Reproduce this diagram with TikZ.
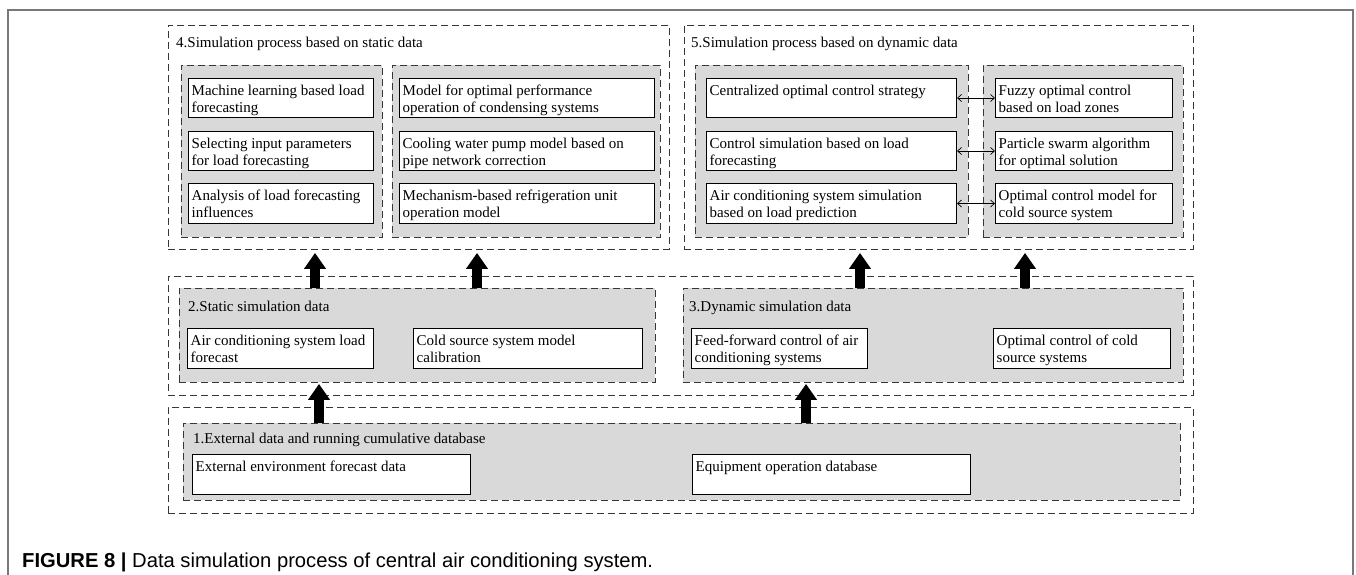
\documentclass[tikz,border=0pt]{standalone}
\usepackage{fontspec}
\setmainfont{Liberation Serif}
\newfontfamily\capfont{Liberation Sans}
\usetikzlibrary{arrows.meta}

\definecolor{panelgrey}{RGB}{217,217,217}
\definecolor{dashgrey}{RGB}{55,55,55}
\definecolor{framegrey}{RGB}{120,120,120}

% rectangle node from its top-left and bottom-right corners
\newcommand\rectnode[6]{\node[#1, minimum width={#5-#3}, minimum height={#6-#4}] (#2) at (#3,#4) {};}
% white box with top-aligned text
\newcommand\textbox[6]{\rectnode{wbox}{#1}{#2}{#3}{#4}{#5}%
  \node[label] (#1-t) at ([shift={(3.5,5.1)}]#1.north west) {\strut #6};}

\begin{document}
\begin{tikzpicture}[x=1pt, y=-1pt,
  outerbox/.style={draw=dashgrey, line width=0.9pt, dash pattern=on 7pt off 4pt, inner sep=0pt, anchor=north west},
  greypanel/.style={outerbox, fill=panelgrey},
  wbox/.style={draw=black, line width=1pt, fill=white, inner sep=0pt, anchor=north west},
  label/.style={anchor=north west, inner sep=0pt, align=left, font=\fontsize{15}{17}\selectfont},
  heading/.style={anchor=base west, inner sep=0pt, font=\fontsize{15}{17}\selectfont},
  fatarrow/.style={line width=10pt, -{Triangle[width=21pt,length=16pt]}},
  link/.style={line width=0.7pt, {Straight Barb[length=4pt,width=7pt]}-{Straight Barb[length=4pt,width=7pt]}}
]
\useasboundingbox (0,0) rectangle (1356,575);
\fill[white] (0,0) rectangle (1356,575);

% page frame
\draw[framegrey, line width=1.5pt] (8,575) -- (8,10) -- (1353,10) -- (1353,575);

% ---- 4. simulation based on static data
\rectnode{outerbox}{b4}{168}{25}{669}{249}
\node[heading] (b4-title) at (176,47.5) {4.Simulation process based on static data};
\rectnode{greypanel}{g4a}{181}{65}{382}{237}
\rectnode{greypanel}{g4b}{392}{65}{660}{237}
\textbox{s1}{188}{78}{373}{117}{Machine learning based load\\forecasting}
\textbox{s2}{188}{131}{373}{170}{Selecting input parameters\\for load forecasting}
\textbox{s3}{188}{183}{373}{223}{Analysis of load forecasting\\influences}
\textbox{s4}{399}{78}{654}{117}{Model for optimal performance\\operation of condensing systems}
\textbox{s5}{399}{131}{654}{170}{Cooling water pump model based on\\pipe network correction}
\textbox{s6}{399}{183}{654}{223}{Mechanism-based refrigeration unit\\operation model}

% ---- 5. simulation based on dynamic data
\rectnode{outerbox}{b5}{684}{25}{1193}{249}
\node[heading] (b5-title) at (691,47.5) {5.Simulation process based on dynamic data};
\rectnode{greypanel}{g5a}{695}{65}{968}{237}
\rectnode{greypanel}{g5b}{983}{65}{1183}{237}
\textbox{d1}{706}{78}{956}{117}{Centralized optimal control strategy}
\textbox{d2}{706}{131}{956}{170}{Control simulation based on load\\forecasting}
\textbox{d3}{706}{183}{956}{223}{Air conditioning system simulation\\based on load prediction}
\textbox{e1}{995}{78}{1172}{117}{Fuzzy optimal control\\based on load zones}
\textbox{e2}{995}{131}{1172}{170}{Particle swarm algorithm\\for optimal solution}
\textbox{e3}{995}{183}{1172}{223}{Optimal control model for\\cold source system}
\draw[link] (d1.east) -- (e1.west);
\draw[link] (d2.east) -- (e2.west);
\draw[link] (d3.east) -- (e3.west);

% ---- 2./3. simulation data
\rectnode{outerbox}{mid}{168}{276}{1193}{395}
\rectnode{greypanel}{g2}{179}{288}{655}{382}
\rectnode{greypanel}{g3}{683}{288}{1183}{382}
\node[heading] (g2-title) at (188,311) {2.Static simulation data};
\node[heading] (g3-title) at (689,311) {3.Dynamic simulation data};
\textbox{m1}{187}{328}{373}{368}{Air conditioning system load\\forecast}
\textbox{m2}{413}{328}{642}{368}{Cold source system model\\calibration}
\textbox{m3}{691}{328}{867}{368}{Feed-forward control of air\\conditioning systems}
\textbox{m4}{993}{328}{1170}{368}{Optimal control of cold\\source systems}

% ---- 1. external data
\rectnode{outerbox}{bot}{168}{407}{1193}{513}
\rectnode{greypanel}{g1}{183}{423}{1180}{500}
\node[heading] (g1-title) at (193,443) {1.External data and running cumulative database};
\textbox{x1}{192}{454}{470}{494}{External environment forecast data}
\textbox{x2}{692}{454}{970}{494}{Equipment operation database}

% ---- data flow arrows
\coordinate (p1) at (315,0);
\coordinate (p2) at (477,0);
\coordinate (p3) at (860,0);
\coordinate (p4) at (1025,0);
\coordinate (q1) at (319,0);
\coordinate (q2) at (806,0);
\draw[fatarrow, shorten >=3pt] (p1 |- g2.north) -- (p1 |- b4.south);
\draw[fatarrow, shorten >=3pt] (p2 |- g2.north) -- (p2 |- b4.south);
\draw[fatarrow, shorten >=3pt] (p3 |- g3.north) -- (p3 |- b5.south);
\draw[fatarrow, shorten >=3pt] (p4 |- g3.north) -- (p4 |- b5.south);
\draw[fatarrow, shorten >=1pt] (q1 |- g1.north) -- (q1 |- g2.south);
\draw[fatarrow, shorten >=1pt] (q2 |- g1.north) -- (q2 |- g3.south);

% caption
\node[anchor=base west, inner sep=0pt, font=\capfont\fontsize{20.2}{24}\selectfont] (caption) at (22,567)
  {\textbf{FIGURE 8 |} Data simulation process of central air conditioning system.};
\end{tikzpicture}
\end{document}
